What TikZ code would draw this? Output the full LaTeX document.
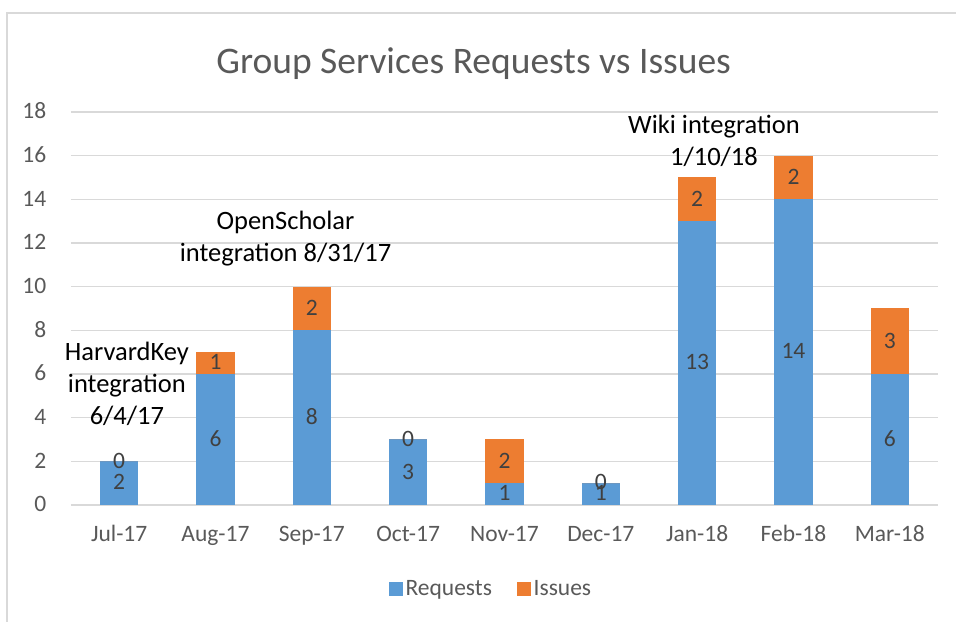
\documentclass[tikz,border=0pt]{standalone}
\usepackage{fontspec}
\setmainfont{Carlito}
\definecolor{reqblue}{HTML}{5B9BD5}
\definecolor{issorange}{HTML}{ED7D31}
\definecolor{gridgray}{HTML}{D9D9D9}
\definecolor{axisgray}{HTML}{595959}
\definecolor{labelgray}{HTML}{404040}
\begin{document}
\begin{tikzpicture}[x=96.33pt,y=21.83pt,
  axislabel/.style={text=axisgray,font=\fontsize{23.5}{28}\selectfont,text height=1.5ex,text depth=.3ex,yshift=-4pt},
  datalabel/.style={text=labelgray,font=\fontsize{23.5}{28}\selectfont,text height=1.5ex,text depth=.3ex,yshift=-4pt},
  note/.style={align=center,font=\fontsize{26.5}{32}\selectfont}]
\def\hw{0.2} % half bar width
\useasboundingbox (-0.737,-5.36) rectangle (9.187,23.13);
\draw[gridgray,line width=1.5pt] (-0.664,-5.5) -- (-0.664,22.54) -- (9.3,22.54);
\node[text=axisgray,font=\fontsize{37.5}{42}\selectfont] (title) at (4.18,20.2) {Group Services Requests vs Issues};
% grid and y labels
\foreach \v in {0,2,...,18} {
  \draw[gridgray,line width=1.2pt] (0,\v) -- (9,\v);
  \node[axislabel,anchor=east] (y\v) at (-0.22,\v) {\v};
}
% bars: month/requests/issues
\foreach \mon/\req/\iss [count=\k] in {Jul-17/2/0,Aug-17/6/1,Sep-17/8/2,Oct-17/3/0,Nov-17/1/2,Dec-17/1/0,Jan-18/13/2,Feb-18/14/2,Mar-18/6/3} {
  \fill[reqblue] (\k-0.5-\hw,0) rectangle (\k-0.5+\hw,\req);
  \fill[issorange] (\k-0.5-\hw,\req) rectangle (\k-0.5+\hw,\req+\iss);
  \node[datalabel] (r\k) at (\k-0.5,\req/2) {\req};
  \node[datalabel] (i\k) at (\k-0.5,\req+\iss/2) {\iss};
  \node[axislabel] (m\k) at (\k-0.5,-1.37) {\mon};
}
% release notes
\node[note] (harvard) at (0.58,5.54) {HarvardKey\\integration\\6/4/17};
\node[note] (scholar) at (2.227,12.19) {OpenScholar\\integration 8/31/17};
\node[note] (wiki) at (6.675,16.67) {Wiki integration\\1/10/18};
% legend
\node[fill=reqblue,minimum size=14pt,inner sep=0pt] (keyreq) at (3.375,-3.83) {};
\node[axislabel,anchor=west,inner sep=2pt] (legreq) at (keyreq.east) {Requests};
\node[fill=issorange,minimum size=14pt,inner sep=0pt] (keyiss) at (4.705,-3.83) {};
\node[axislabel,anchor=west,inner sep=2pt] (legiss) at (keyiss.east) {Issues};
\end{tikzpicture}
\end{document}
